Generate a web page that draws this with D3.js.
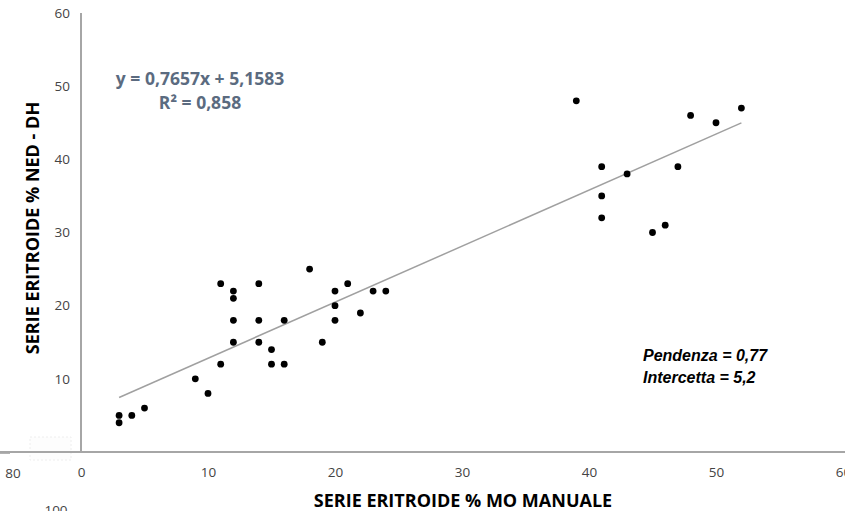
<!DOCTYPE html>
<html>
<head>
<meta charset="utf-8">
<script src="https://cdn.jsdelivr.net/npm/d3@7"></script>
<style>
  html, body { margin: 0; padding: 0; background: #fff; }
  svg { display: block; }
</style>
</head>
<body>
<svg id="chart" width="845" height="511"></svg>
<script>
const xValues = [3, 3, 4, 5, 9, 10, 11, 11, 12, 12, 12, 12, 14, 14, 14, 15, 15, 16, 16, 18, 19, 20, 20, 20, 21, 22, 23, 24, 39, 41, 41, 41, 43, 45, 46, 47, 48, 50, 52];
const yValues = [5, 4, 5, 6, 10, 8, 23, 12, 22, 21, 18, 15, 23, 18, 15, 14, 12, 12, 18, 25, 15, 22, 20, 18, 23, 19, 22, 22, 48, 39, 35, 32, 38, 30, 31, 39, 46, 45, 47];
const xTicks = [0, 10, 20, 30, 40, 50, 60];
const yTicks = [10, 20, 30, 40, 50, 60];
const slope = 0.7657, intercept = 5.1583;
const trendRange = [3, 52];
const equationLines = ["y = 0,7657x + 5,1583", "R² = 0,858"];
const noteLines = ["Pendenza = 0,77", "Intercetta = 5,2"];
const xTitle = "SERIE ERITROIDE % MO MANUALE";
const yTitle = "SERIE ERITROIDE % NED - DH";

const svg = d3.select("#chart");
const x = d3.scaleLinear().domain([0, 60]).range([81, 843]);
const y = d3.scaleLinear().domain([0, 60]).range([452, 13]);
const tickFont = "'Open Sans', 'Noto Sans', sans-serif";

// stray fragments of a neighbouring chart at the left edge
svg.append("line").attr("x1", 0).attr("x2", 10).attr("y1", 453).attr("y2", 453)
  .attr("stroke", "#999").attr("stroke-width", 1.5);
svg.append("rect").attr("x", 30).attr("y", 437).attr("width", 41).attr("height", 23)
  .attr("fill", "#fdfdfd").attr("stroke", "#eee").attr("stroke-dasharray", "2,2");
svg.append("text").attr("x", 13).attr("y", 478).attr("text-anchor", "middle")
  .attr("font-family", tickFont).attr("font-size", 13.5).attr("fill", "#444").text("80");
svg.append("text").attr("x", 56).attr("y", 515).attr("text-anchor", "middle")
  .attr("font-family", tickFont).attr("font-size", 13.5).attr("fill", "#444").text("100");

// axes
const xAxis = svg.append("g").attr("transform", `translate(0,${y(0)})`)
  .call(d3.axisBottom(x).tickValues(xTicks).tickSize(0).tickPadding(15).tickFormat(d3.format("d")));
const yAxis = svg.append("g").attr("transform", `translate(${x(0)},0)`)
  .call(d3.axisLeft(y).tickValues(yTicks).tickSize(0).tickPadding(11).tickFormat(d3.format("d")));
[xAxis, yAxis].forEach(g => {
  g.select(".domain").attr("stroke", "#a6a6a6").attr("stroke-width", 2);
  g.selectAll("text").attr("font-family", tickFont).attr("font-size", 13.5).attr("fill", "#444");
});
yAxis.select(".domain").attr("d", `M0,${y(0)}V${y(60)}`);
xAxis.select(".domain").attr("d", `M0,0H${845}`);

// trendline
svg.append("line")
  .attr("x1", x(trendRange[0])).attr("y1", y(slope * trendRange[0] + intercept))
  .attr("x2", x(trendRange[1])).attr("y2", y(slope * trendRange[1] + intercept))
  .attr("stroke", "#a0a0a0").attr("stroke-width", 1.5);

// points
svg.append("g").selectAll("circle")
  .data(xValues.map((v, i) => [v, yValues[i]]))
  .join("circle")
  .attr("cx", d => x(d[0])).attr("cy", d => y(d[1])).attr("r", 3.4)
  .attr("fill", "#000");

// equation
svg.append("g").selectAll("text").data(equationLines).join("text")
  .attr("x", 200).attr("y", (d, i) => 85 + i * 24)
  .attr("text-anchor", "middle")
  .attr("font-family", tickFont).attr("font-weight", "bold").attr("font-size", 17.5)
  .attr("fill", "#5b6b80").text(d => d);

// notes
svg.append("g").selectAll("text").data(noteLines).join("text")
  .attr("x", 643).attr("y", (d, i) => 361 + i * 22)
  .attr("font-family", "'Liberation Sans', Arial, sans-serif")
  .attr("font-style", "italic").attr("font-weight", "bold").attr("font-size", 16)
  .attr("fill", "#000").text(d => d);

// axis titles
svg.append("text").attr("x", 463).attr("y", 507).attr("text-anchor", "middle")
  .attr("font-family", tickFont).attr("font-weight", "bold").attr("font-size", 18)
  .attr("fill", "#000").text(xTitle);
svg.append("text").attr("transform", "translate(39,228) rotate(-90)")
  .attr("text-anchor", "middle")
  .attr("font-family", tickFont).attr("font-weight", "bold").attr("font-size", 18)
  .attr("fill", "#000").text(yTitle);
</script>
</body>
</html>
